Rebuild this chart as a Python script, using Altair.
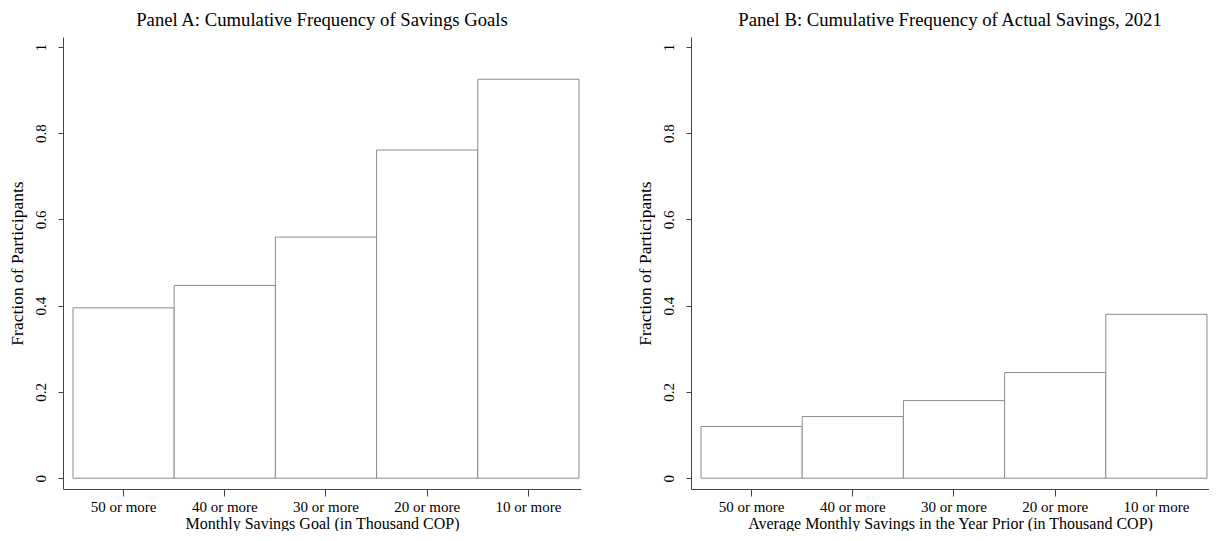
import altair as alt
import pandas as pd

categories = ["50 or more", "40 or more", "30 or more", "20 or more", "10 or more"]
goal_fraction = [0.395, 0.447, 0.559, 0.761, 0.925]
actual_fraction = [0.120, 0.143, 0.180, 0.245, 0.380]
y_ticks = [0, 0.2, 0.4, 0.6, 0.8, 1]

FONT = "Liberation Serif"
W = 518
H = 452
AXIS_COLOR = "#444444"

def panel(values, title, xtitle):
    df = pd.DataFrame({"cat": categories, "frac": values})
    return alt.Chart(df).mark_bar(
        fill="white", stroke="#8c8c8c", strokeWidth=1
    ).encode(
        x=alt.X("cat:N", sort=categories, title=xtitle,
                scale=alt.Scale(paddingInner=0, paddingOuter=0.0593, align=0.833),
                axis=alt.Axis(labelAngle=0, labelFont=FONT, labelFontSize=15,
                              titleFont=FONT, titleFontSize=16, titleFontWeight="normal",
                              labelColor="black", titleColor="black",
                              domainColor=AXIS_COLOR, tickColor=AXIS_COLOR,
                              tickSize=7, labelPadding=3, titlePadding=1)),
        y=alt.Y("frac:Q", title="Fraction of Participants",
                scale=alt.Scale(domain=[-0.025, 1.023], nice=False, zero=False),
                axis=alt.Axis(values=y_ticks, labelAngle=270, labelFont=FONT,
                              labelFontSize=15, titleFont=FONT, titleFontSize=17.5,
                              titleFontWeight="normal", labelColor="black",
                              titleColor="black", domainColor=AXIS_COLOR,
                              tickColor=AXIS_COLOR, tickSize=5, grid=False,
                              labelAlign="center", labelBaseline="bottom",
                              labelPadding=10, titlePadding=7,
                              format="~g")),
    ).properties(
        width=W, height=H,
        title=alt.TitleParams(title, font=FONT, fontSize=18.7, fontWeight="normal",
                              color="black", offset=7)
    )

a = panel(goal_fraction, "Panel A: Cumulative Frequency of Savings Goals",
          "Monthly Savings Goal (in Thousand COP)")
b = panel(actual_fraction, "Panel B: Cumulative Frequency of Actual Savings, 2021",
          "Average Monthly Savings in the Year Prior (in Thousand COP)")

chart = alt.hconcat(a, b, spacing=55).configure(
    background="white", padding={"top": 3, "left": 0, "right": 0, "bottom": 0}
).configure_view(strokeWidth=0, stroke="transparent")

chart.save("out.html", embed_options={"renderer": "svg", "actions": False})
